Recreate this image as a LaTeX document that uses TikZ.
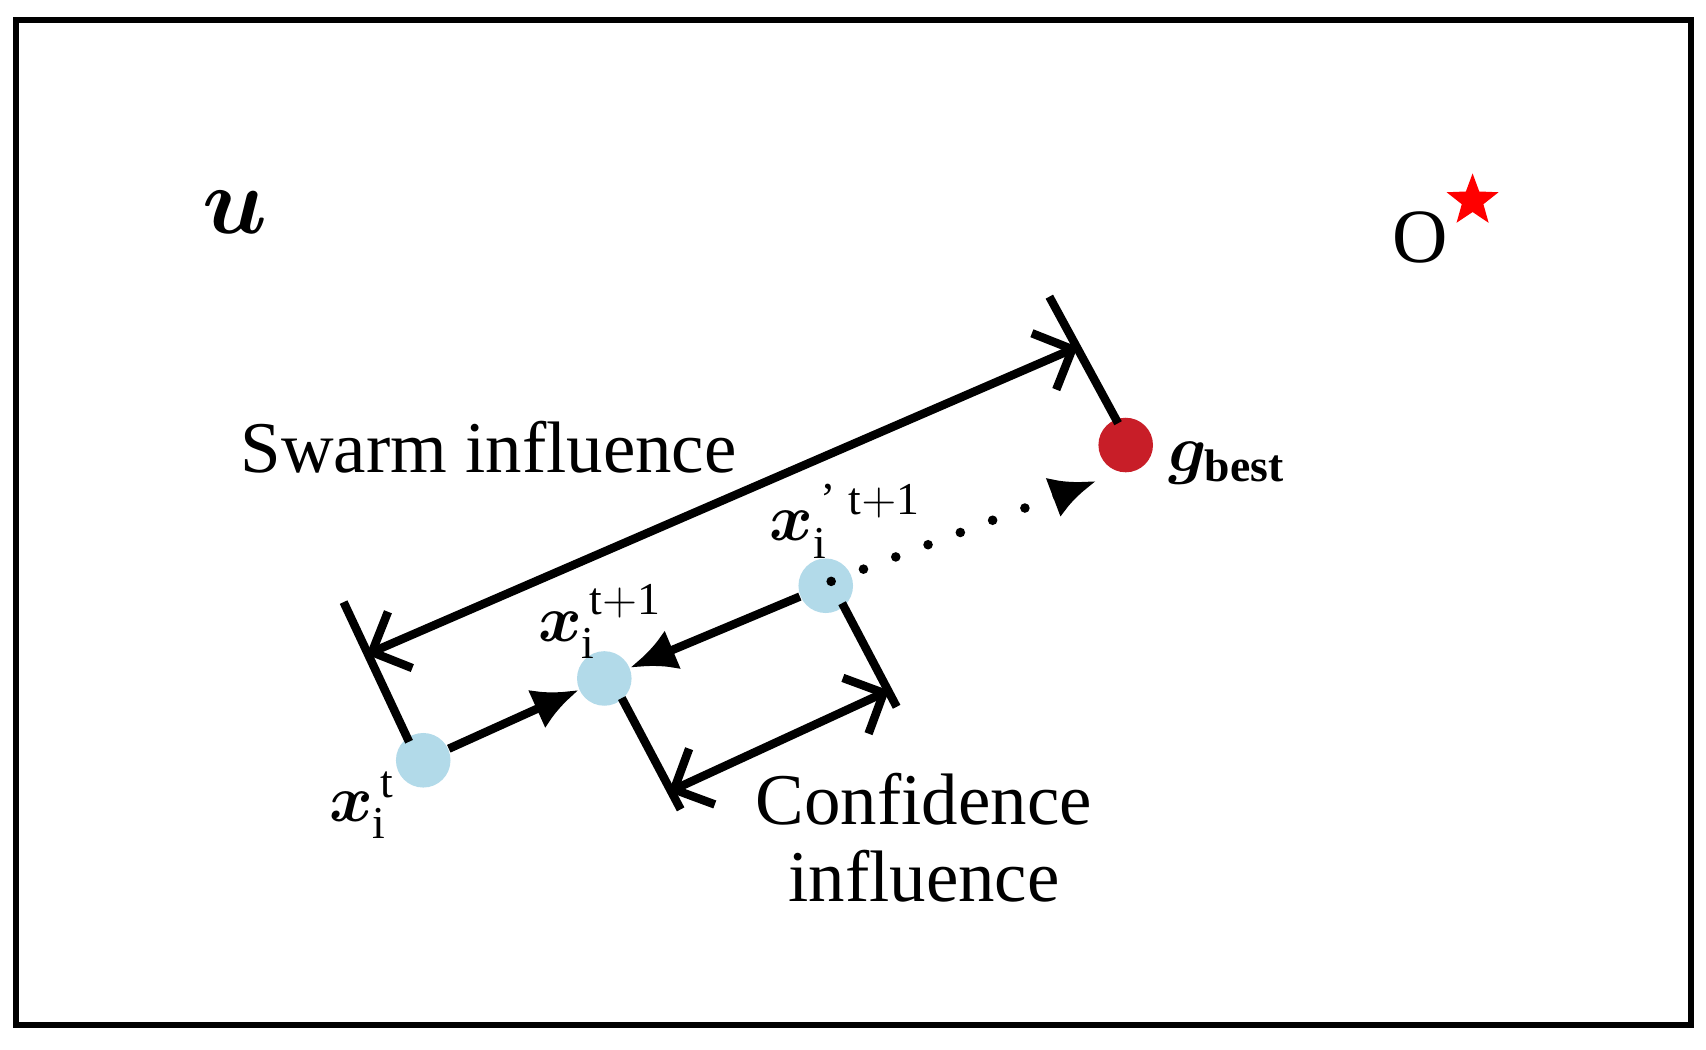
\documentclass[tikz,border=0pt]{standalone}
\usepackage{amsmath,amssymb,bm}
\usepackage{fontspec}
\setmainfont{Liberation Serif}
\usetikzlibrary{arrows.meta,shapes.geometric}
\begin{document}
\begin{tikzpicture}[x=0.01cm,y=-0.01cm,
  ln/.style={line width=2.2pt,black},
  dim/.style={ln,{Straight Barb[length=8pt,width=16pt]}-{Straight Barb[length=8pt,width=16pt]}},
  particle/.style={circle,fill={rgb,255:red,178;green,218;blue,233},minimum size=0.5cm,inner sep=0},
  lbl/.style={font=\fontsize{19}{22}\selectfont},
  sym/.style={font=\fontsize{17}{20}\selectfont}]
\useasboundingbox (0,0) rectangle (1564,962);
\draw[line width=1.6pt] (15,18) rectangle (1550,940);
\node[font=\fontsize{44}{48}\selectfont] (u) at (215,195) {$\bm{u}$};
\node[font=\fontsize{20}{24}\selectfont] (o) at (1302,218) {O};
\node[star,star points=5,star point ratio=2.4,fill=red,minimum size=0.5cm,inner sep=0] (star) at (1350,184) {};
\node[particle] (xt) at (388,697) {};
\node[particle] (xt1) at (554,622) {};
\node[particle] (xp) at (757,537) {};
\node[circle,fill={rgb,255:red,200;green,30;blue,40},minimum size=0.5cm,inner sep=0] (g) at (1032,408) {};
\coordinate (xpc) at (762,533);
\fill (xpc) circle (2.5);
\draw[ln,-{Latex[length=12pt,width=11pt]}] (xt) -- (xt1);
\draw[ln,-{Latex[length=12pt,width=11pt]}] (xp) -- (xt1);
\coordinate (gend) at (1005,441);
\draw[line width=2.5pt,line cap=round,dash pattern=on 0pt off 9pt,-{Latex[length=12pt,width=11pt]}] (xpc) -- (gend);
\coordinate (s1a) at (375,680); \coordinate (s1b) at (315,552);
\coordinate (s2a) at (1025,388); \coordinate (s2b) at (962,272);
\draw[ln] (s1a) -- (s1b); \draw[ln] (s2a) -- (s2b);
\coordinate (sa) at (336,600); \coordinate (sb) at (988,318);
\draw[dim] (sa) -- (sb);
\coordinate (c1a) at (570,640); \coordinate (c1b) at (624,742);
\coordinate (c2a) at (772,553); \coordinate (c2b) at (822,648);
\draw[ln] (c1a) -- (c1b); \draw[ln] (c2a) -- (c2b);
\coordinate (ca) at (613,726); \coordinate (cb) at (815,633);
\draw[dim] (ca) -- (cb);
\node[lbl] (swarm) at (448,410) {Swarm influence};
\node[lbl,align=center] (conf) at (847,768) {Confidence\\[-2pt]influence};
\node[sym] (lxt) at (332,738) {$\bm{x}_{\mathrm{i}}^{\,\mathrm{t}}$};
\node[sym] (lxt1) at (550,570) {$\bm{x}_{\mathrm{i}}^{\,\mathrm{t+1}}$};
\node[sym] (lxp) at (775,478) {$\bm{x}_{\mathrm{i}}^{\,\text{'}\;\mathrm{t+1}}$};
\node[sym] (lg) at (1125,425) {$\bm{g}_{\mathbf{best}}$};
\end{tikzpicture}
\end{document}
